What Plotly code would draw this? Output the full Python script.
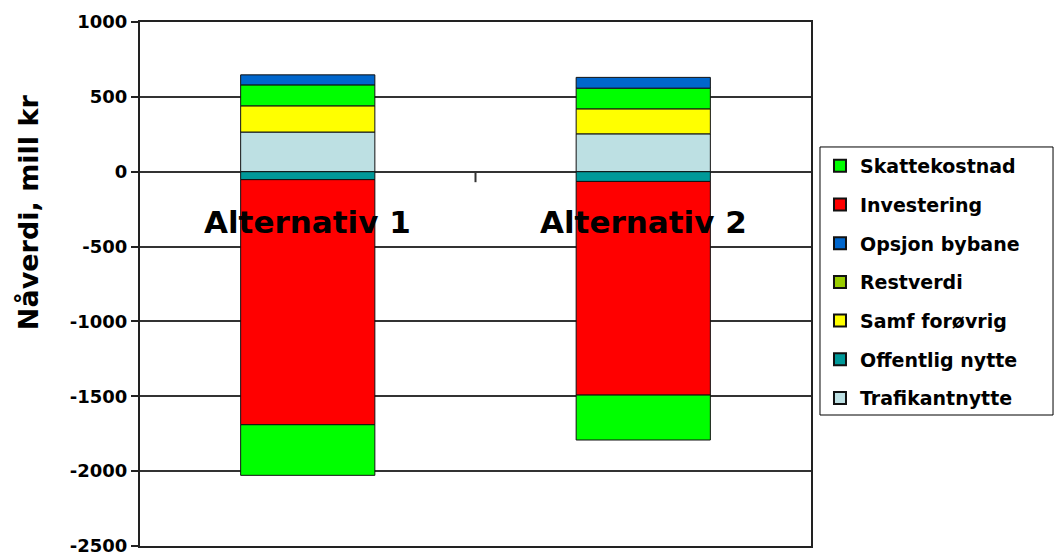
import plotly.graph_objects as go

categories = ["Alternativ 1", "Alternativ 2"]

trafikantnytte = [265, 253]
offentlig_nytte = [-53, -65]
samf_forovrig = [175, 167]
restverdi = [140, 138]
opsjon_bybane = [67, 72]
investering = [-1637, -1427]
skattekostnad = [-338, -300]

y_ticks = [1000, 500, 0, -500, -1000, -1500, -2000, -2500]

FONT = "DejaVu Sans"
fig = go.Figure()

def add_bar(name, vals, color, rank, showlegend=True, group=None):
    fig.add_trace(go.Bar(
        x=categories, y=vals, name=name,
        marker=dict(color=color, line=dict(color="#111111", width=1)),
        width=0.4, showlegend=showlegend, legendgroup=group or name,
        legendrank=rank,
    ))

add_bar("Trafikantnytte", trafikantnytte, "#BDE0E3", 7)
add_bar("Offentlig nytte", offentlig_nytte, "#009999", 6)
add_bar("Samf forøvrig", samf_forovrig, "#FFFF00", 5)
add_bar("Restverdi", restverdi, "#00FF00", 4, showlegend=False, group="Restverdi")
# legend entry for Restverdi (swatch colour as in the reference legend)
fig.add_trace(go.Bar(x=categories, y=[None, None], name="Restverdi",
                     marker=dict(color="#99CC00", line=dict(color="#111111", width=1)),
                     width=0.4, legendgroup="Restverdi", legendrank=4))
add_bar("Opsjon bybane", opsjon_bybane, "#0066CC", 3)
add_bar("Investering", investering, "#FF0000", 2)
add_bar("Skattekostnad", skattekostnad, "#00FF00", 1)

for cat in categories:
    fig.add_annotation(x=cat, y=-335, xref="x", yref="y", text="<b>%s</b>" % cat,
                       showarrow=False, font=dict(family=FONT, size=31, color="black"),
                       xanchor="center", yanchor="middle")

fig.add_annotation(x=-0.167, y=0.637, xref="paper", yref="paper",
                   text="<b>Nåverdi, mill kr</b>", textangle=-90, showarrow=False,
                   font=dict(family=FONT, size=27, color="black"),
                   xanchor="center", yanchor="middle")

# category-axis tick between the two categories
fig.add_shape(type="line", xref="x", yref="y", x0=0.5, x1=0.5, y0=0, y1=-70,
              line=dict(color="#333333", width=2))

# legend frame
fig.add_shape(type="rect", xref="paper", yref="paper",
              x0=1.0134, x1=1.3607, y0=0.25, y1=0.7615,
              line=dict(color="black", width=1))

fig.update_layout(
    barmode="relative",
    width=1058, height=556,
    margin=dict(l=140, r=247, t=22, b=10),
    plot_bgcolor="white", paper_bgcolor="white",
    font=dict(family=FONT, color="black"),
    showlegend=True,
    legend=dict(
        x=1.0134, y=0.7615, xanchor="left", yanchor="top",
        traceorder="grouped", tracegroupgap=11,
        borderwidth=0, bgcolor="rgba(0,0,0,0)",
        font=dict(family=FONT, size=19, color="black", weight="bold"),
        itemsizing="constant",
    ),
    xaxis=dict(range=[-0.5, 1.5], showticklabels=False, showgrid=False,
               showline=True, linecolor="#222222", linewidth=2, mirror=True,
               zeroline=False, ticks="", automargin=False),
    yaxis=dict(range=[-2500, 1000], tickvals=y_ticks,
               ticktext=["<b>%d</b>" % v for v in y_ticks],
               tickfont=dict(family=FONT, size=18, color="black"),
               ticklabeloverflow="allow", automargin=False,
               showgrid=True, gridcolor="#333333", gridwidth=1.5,
               zeroline=True, zerolinecolor="#333333", zerolinewidth=2,
               showline=True, linecolor="#222222", linewidth=2, mirror=True,
               ticks="outside", ticklen=7, tickcolor="#222222", tickwidth=2),
)

fig.write_html("out.html")
